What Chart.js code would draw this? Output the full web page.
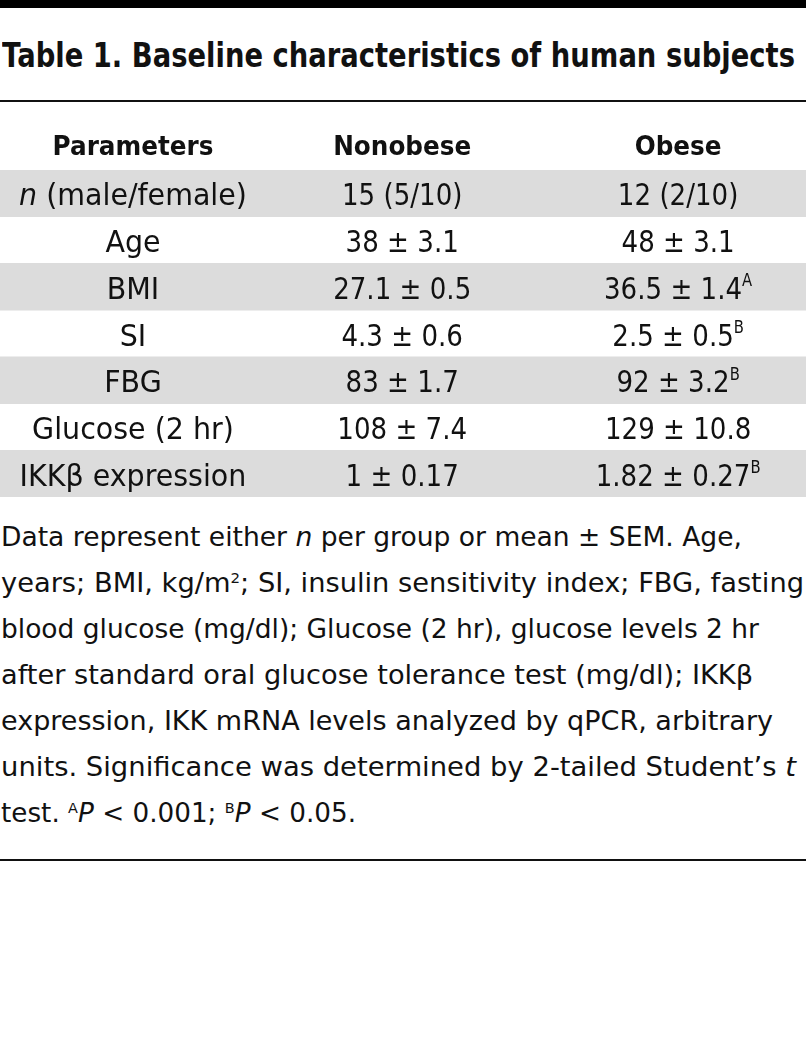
<!DOCTYPE html>
<html>
<head>
<meta charset="utf-8">
<script src="https://cdn.jsdelivr.net/npm/chart.js@4"></script>
<style>
  html, body { margin: 0; padding: 0; background: #fff; }
  body { width: 806px; height: 1049px; position: relative; overflow: hidden; font-family: "DejaVu Sans", sans-serif; color: #111; }
  .bar { position: absolute; left: 0; top: 0; width: 806px; height: 8px; background: #000; }
  .rule { position: absolute; left: 0; width: 806px; height: 2px; background: #111; }
  .fit { display: inline-block; white-space: nowrap; transform-origin: 0 50%; }
  #title { position: absolute; left: 2px; top: 39px; font-size: 33px; font-weight: bold; line-height: 1; }
  #notes { position: absolute; left: 1px; top: 514px; font-size: 27px; line-height: 46px; }
  #notes div { height: 46px; }
  sup { font-size: 0.55em; vertical-align: 0.6em; line-height: 0; }
  #tableChart { position: absolute; left: 0; top: 100px; }
</style>
</head>
<body>
<div class="bar"></div>
<div id="title"><span class="fit" data-w="793">Table 1. Baseline characteristics of human subjects</span></div>
<div class="rule" style="top:100px"></div>
<canvas id="tableChart" width="806" height="397"></canvas>
<div id="notes">
  <div><span class="fit" data-w="741">Data represent either <i>n</i> per group or mean ± SEM. Age,</span></div>
  <div><span class="fit" data-w="803">years; BMI, kg/m<sup>2</sup>; SI, insulin sensitivity index; FBG, fasting</span></div>
  <div><span class="fit" data-w="758">blood glucose (mg/dl); Glucose (2 hr), glucose levels 2 hr</span></div>
  <div><span class="fit" data-w="752">after standard oral glucose tolerance test (mg/dl); IKKβ</span></div>
  <div><span class="fit" data-w="772">expression, IKK mRNA levels analyzed by qPCR, arbitrary</span></div>
  <div><span class="fit" data-w="795">units. Significance was determined by 2-tailed Student’s <i>t</i></span></div>
  <div><span class="fit" data-w="355">test. <sup>A</sup><i>P</i> &lt; 0.001; <sup>B</sup><i>P</i> &lt; 0.05.</span></div>
</div>
<div class="rule" style="top:859px"></div>

<script>
// === Table data ===
const columns = ['Parameters', 'Nonobese', 'Obese'];
const parameters = ['_n_ (male/female)', 'Age', 'BMI', 'SI', 'FBG', 'Glucose (2 hr)', 'IKKβ expression'];
const nonobese = ['15 (5/10)', '38 ± 3.1', '27.1 ± 0.5', '4.3 ± 0.6', '83 ± 1.7', '108 ± 7.4', '1 ± 0.17'];
const obese = ['12 (2/10)', '48 ± 3.1', '36.5 ± 1.4', '2.5 ± 0.5', '92 ± 3.2', '129 ± 10.8', '1.82 ± 0.27'];
const obeseSig = ['', '', 'A', 'B', 'B', '', 'B'];
const shaded = [true, false, true, false, true, false, true];

// column centres on the 0..3 x scale, and horizontal squeeze per column
const colPos = [0.495, 1.497, 2.524];
const colSqueeze = [0.95, 0.87, 0.87];
const FONT = '"DejaVu Sans", sans-serif';

// squeeze the html text lines to the widths of the original
document.querySelectorAll('.fit').forEach(el => {
  const w = el.getBoundingClientRect().width;
  el.style.transform = `scaleX(${el.dataset.w / w})`;
});

// draws "_italic_ text ^sup" centred on cx
function drawRich(ctx, text, cx, baseY, size, weight, sx) {
  const segs = text.split(/(_[^_]+_|\^\w+)/).filter(s => s).map(s => {
    if (s[0] === '_') return { t: s.slice(1, -1), font: `italic ${weight} ${size}px ${FONT}`, dy: 0 };
    if (s[0] === '^') return { t: s.slice(1), font: `${weight} ${Math.round(size * 0.55)}px ${FONT}`, dy: -size * 0.42 };
    return { t: s, font: `${weight} ${size}px ${FONT}`, dy: 0 };
  });
  let total = 0;
  segs.forEach(s => { ctx.font = s.font; s.w = ctx.measureText(s.t).width; total += s.w; });
  ctx.save();
  ctx.translate(cx, baseY);
  ctx.scale(sx, 1);
  ctx.textBaseline = 'alphabetic';
  ctx.textAlign = 'left';
  ctx.fillStyle = '#111';
  let x = -total / 2;
  segs.forEach(s => { ctx.font = s.font; ctx.fillText(s.t, x, s.dy); x += s.w; });
  ctx.restore();
}

const cellText = {
  id: 'cellText',
  afterDatasetsDraw(chart) {
    const { ctx, scales: { x, y }, chartArea } = chart;
    columns.forEach((c, i) => {
      drawRich(ctx, c, x.getPixelForValue(colPos[i]), chartArea.top - 15, 26, 'bold', 0.95);
    });
    parameters.forEach((p, r) => {
      const yy = y.getPixelForValue(r) + 12;
      drawRich(ctx, p, x.getPixelForValue(colPos[0]), yy, 30, 'normal', colSqueeze[0]);
      drawRich(ctx, nonobese[r], x.getPixelForValue(colPos[1]), yy, 30, 'normal', colSqueeze[1]);
      drawRich(ctx, obese[r] + (obeseSig[r] ? '^' + obeseSig[r] : ''), x.getPixelForValue(colPos[2]), yy, 30, 'normal', colSqueeze[2]);
    });
  }
};

new Chart(document.getElementById('tableChart'), {
  type: 'bar',
  data: {
    labels: parameters,
    datasets: [{
      data: shaded.map(s => s ? [0, 3] : null),
      backgroundColor: '#dcdcdc',
      borderWidth: 0,
      barPercentage: 1,
      categoryPercentage: 1
    }]
  },
  options: {
    indexAxis: 'y',
    responsive: false,
    animation: false,
    devicePixelRatio: 1,
    layout: { padding: { top: 70, left: 0, right: 0, bottom: 0 } },
    scales: {
      x: { type: 'linear', min: 0, max: 3, display: false },
      y: { display: false }
    },
    plugins: { legend: { display: false }, tooltip: { enabled: false }, title: { display: false } }
  },
  plugins: [cellText]
});
</script>
</body>
</html>
